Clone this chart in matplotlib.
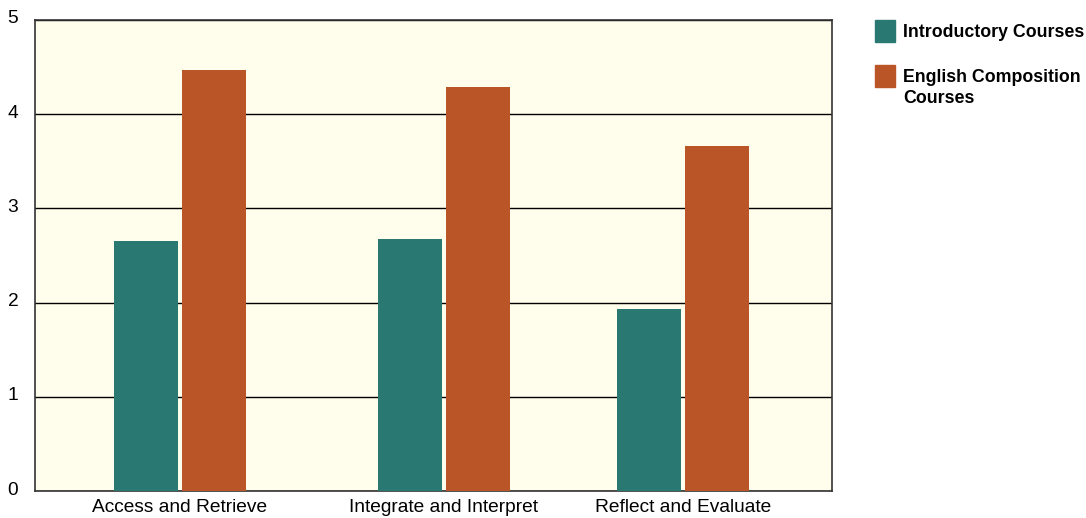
import numpy as np
import matplotlib.pyplot as plt
import matplotlib.transforms as mtransforms
from matplotlib.patches import Rectangle

categories = ["Access and Retrieve", "Integrate and Interpret", "Reflect and Evaluate"]
series_names = ["Introductory Courses", "English Composition\nCourses"]
intro_vals = [2.65, 2.67, 1.93]
english_vals = [4.47, 4.29, 3.66]

teal = "#2a7872"
orange = "#ba5527"
bg = "#fffdeb"

plt.rcParams['font.family'] = ['Liberation Sans', 'DejaVu Sans']

fig = plt.figure(figsize=(10.86, 5.18), dpi=100)
ax = fig.add_axes([0.0322, 0.0521, 0.734, 0.9093])
ax.set_facecolor(bg)

# group centers are not evenly spaced in the original
centers = np.array([0.182, 0.513, 0.813])
w = 0.0803
gap = 0.0025
ax.bar(centers - w / 2 - gap, intro_vals, width=w, color=teal, zorder=3)
ax.bar(centers + w / 2 + gap, english_vals, width=w, color=orange, zorder=3)

ax.set_xlim(0, 1)
ax.set_ylim(0, 5)
ax.set_yticks(range(6))
ax.yaxis.grid(True, color="black", linewidth=1.0, zorder=1)
ax.set_axisbelow(True)
ax.set_xticks(centers)
ax.set_xticklabels(categories)
ax.tick_params(axis="both", length=0, labelsize=13.8, pad=6)
ax.tick_params(axis="y", pad=12)
# nudge y labels up a little, like the original
shift = mtransforms.ScaledTranslation(0, 3 / 100, fig.dpi_scale_trans)
for lbl in ax.get_yticklabels():
    lbl.set_transform(lbl.get_transform() + shift)
for s in ax.spines.values():
    s.set_color("#333333")
    s.set_linewidth(1.2)

# legend drawn by hand on the figure
sq_tops = [20, 65]
text_tops = [24, 69]
colors = [teal, orange]
H = 518.0
for c, name, st, tt in zip(colors, series_names, sq_tops, text_tops):
    fig.add_artist(Rectangle((875 / 1086, (H - st - 22) / H), 20 / 1086, 22 / H,
                             transform=fig.transFigure, color=c))
    fig.text(903 / 1086, (H - tt) / H, name, fontsize=12.8, fontweight="bold",
             va="top", ha="left", linespacing=1.3)

fig.savefig("out.png", dpi=100)
